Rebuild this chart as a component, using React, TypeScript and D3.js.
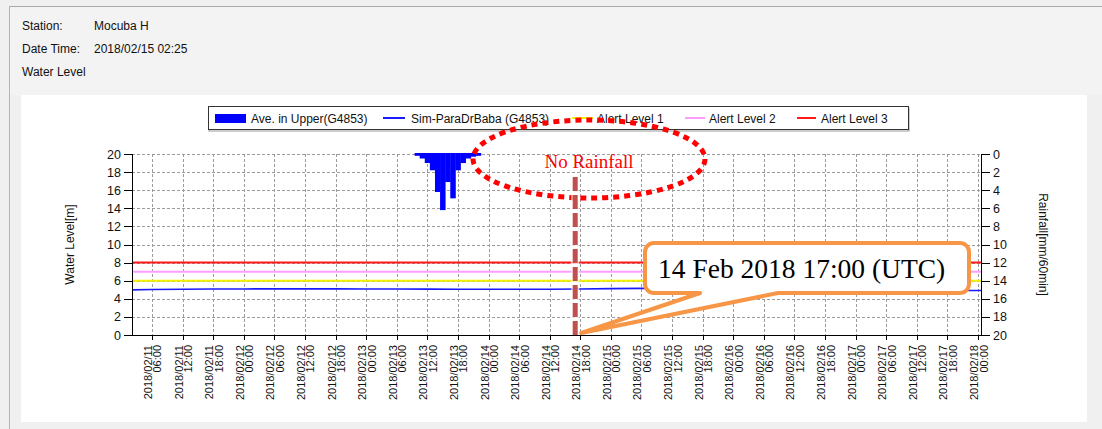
import React from "react";
import * as d3 from "d3";

// Hourly rainfall averaged over the upper basin (mm/60min), 2018/02/13
const rainTimes = [
  "2018/02/13 10:00", "2018/02/13 11:00", "2018/02/13 12:00", "2018/02/13 13:00",
  "2018/02/13 14:00", "2018/02/13 15:00", "2018/02/13 16:00", "2018/02/13 17:00",
  "2018/02/13 18:00", "2018/02/13 19:00", "2018/02/13 20:00", "2018/02/13 21:00",
  "2018/02/13 22:00",
];
const rainValues = [0.2, 0.5, 1.0, 1.8, 4.2, 6.2, 3.1, 4.9, 1.8, 1.0, 0.5, 0.3, 0.2];

// Simulated water level at Mocuba (m), 6-hourly
const simTimes = [
  "2018/02/11 00:00", "2018/02/11 06:00", "2018/02/11 12:00", "2018/02/11 18:00",
  "2018/02/12 00:00", "2018/02/12 06:00", "2018/02/12 12:00", "2018/02/12 18:00",
  "2018/02/13 00:00", "2018/02/13 06:00", "2018/02/13 12:00", "2018/02/13 18:00",
  "2018/02/14 00:00", "2018/02/14 06:00", "2018/02/14 12:00", "2018/02/14 18:00",
  "2018/02/15 00:00", "2018/02/15 06:00", "2018/02/15 12:00", "2018/02/15 18:00",
  "2018/02/16 00:00", "2018/02/16 06:00", "2018/02/16 12:00", "2018/02/16 18:00",
  "2018/02/17 00:00", "2018/02/17 06:00", "2018/02/17 12:00", "2018/02/17 18:00",
  "2018/02/18 00:00", "2018/02/18 06:00",
];
const simValues = [
  4.97, 5.02, 5.06, 5.08, 5.09, 5.1, 5.1, 5.1, 5.09, 5.08, 5.07, 5.06,
  5.05, 5.05, 5.06, 5.08, 5.12, 5.15, 5.12, 5.06, 5.02, 4.99, 4.97, 4.96,
  4.95, 4.94, 4.93, 4.92, 4.91, 4.91,
];

// Alert thresholds (m)
const alertNames = ["Alert Level 1", "Alert Level 2", "Alert Level 3"];
const alertValues = [6, 7, 8];
const alertColors = ["#f2f200", "#ff9cff", "#ff1a1a"];

const levelTicks = [0, 2, 4, 6, 8, 10, 12, 14, 16, 18, 20];
const rainTicks = [0, 2, 4, 6, 8, 10, 12, 14, 16, 18, 20];

const domainStart = "2018/02/11 02:05";
const domainEnd = "2018/02/18 00:35";
const markerTime = "2018/02/14 17:00";

const stationName = "Mocuba H";
const currentTime = "2018/02/15 02:25";

const parse = d3.timeParse("%Y/%m/%d %H:%M");
const fmtDate = d3.timeFormat("%Y/%m/%d");
const fmtTime = d3.timeFormat("%H:%M");

const W = 1102;
const H = 429;
const M = { left: 132, right: 981, top: 154, bottom: 335 };

const SANS = "'Liberation Sans', Arial, sans-serif";
const SERIF = "'Liberation Serif', 'Times New Roman', serif";

export default function App() {
  const x = d3.scaleTime().domain([parse(domainStart)!, parse(domainEnd)!]).range([M.left, M.right]);
  const y = d3.scaleLinear().domain([0, 20]).range([M.bottom, M.top]);
  const yRain = d3.scaleLinear().domain([0, 20]).range([M.top, M.bottom]);

  const xTicks = x.ticks(d3.timeHour.every(6)!).filter((t) => x(t) > M.left + 2 && x(t) < M.right + 0.5);

  const simLine = d3
    .line<number>()
    .x((_, i) => x(parse(simTimes[i])!))
    .y((v) => y(v));

  const halfHour = 30 * 60 * 1000;
  const rainBars = rainTimes.map((t, i) => {
    const c = parse(t)!.getTime();
    const x0 = x(new Date(c - halfHour));
    const x1 = x(new Date(c + halfHour));
    return { x0, x1, y0: yRain(0), y1: yRain(rainValues[i]) };
  });

  const mx = x(parse(markerTime)!);

  // callout box with a tail pointing at the marker's foot
  const box = { x0: 645, y0: 243, x1: 969, y1: 293, r: 9 };
  const tail = { a: 700, b: 778, tx: mx + 6, ty: y(0) - 2 };
  const calloutPath = [
    `M${box.x0 + box.r},${box.y0}`,
    `H${box.x1 - box.r}`,
    `A${box.r},${box.r} 0 0 1 ${box.x1},${box.y0 + box.r}`,
    `V${box.y1 - box.r}`,
    `A${box.r},${box.r} 0 0 1 ${box.x1 - box.r},${box.y1}`,
    `H${tail.b}`,
    `L${tail.tx},${tail.ty}`,
    `L${tail.a},${box.y1}`,
    `H${box.x0 + box.r}`,
    `A${box.r},${box.r} 0 0 1 ${box.x0},${box.y1 - box.r}`,
    `V${box.y0 + box.r}`,
    `A${box.r},${box.r} 0 0 1 ${box.x0 + box.r},${box.y0}`,
    "Z",
  ].join(" ");

  const legendY = 118;
  const lineSwatch = (x0: number, x1: number, color: string) => (
    <line x1={x0} x2={x1} y1={legendY} y2={legendY} stroke={color} strokeWidth={2} />
  );

  return (
    <div style={{ position: "absolute", left: 0, top: 0 }}>
      <svg width={W} height={H} viewBox={`0 0 ${W} ${H}`} style={{ display: "block" }}>
        <rect x={0} y={0} width={W} height={H} fill="#f0f0f0" />
        <line x1={9} x2={W} y1={6.5} y2={6.5} stroke="#a8a8a8" />
        <line x1={9.5} x2={9.5} y1={6} y2={H} stroke="#b4b4b4" />
        <rect x={10} y={7} width={W - 10} height={88} fill="#f3f3f3" />
        <rect x={21} y={95} width={1066} height={327} fill="#ffffff" />

        {/* header */}
        <g fontFamily={SANS} fontSize={12} fill="#111">
          <text x={22} y={30}>Station:</text>
          <text x={94} y={30}>{stationName}</text>
          <text x={22} y={53}>Date Time:</text>
          <text x={94} y={53}>{currentTime}</text>
          <text x={22} y={76}>Water Level</text>
        </g>

        {/* grid */}
        <g stroke="#9c9c9c" strokeWidth={1} strokeDasharray="3,2">
          {levelTicks.map((t) => (
            <line key={`h${t}`} x1={M.left} x2={M.right} y1={Math.round(y(t)) + 0.5} y2={Math.round(y(t)) + 0.5} />
          ))}
          {xTicks.map((t) => (
            <line key={`v${+t}`} x1={Math.round(x(t)) + 0.5} x2={Math.round(x(t)) + 0.5} y1={M.top} y2={M.bottom} />
          ))}
        </g>

        {/* alert levels */}
        {alertValues.map((v, i) => (
          <line key={alertNames[i]} x1={M.left} x2={M.right} y1={y(v)} y2={y(v)} stroke={alertColors[i]} strokeWidth={2} />
        ))}

        {/* simulated level */}
        <defs>
          <clipPath id="plotClip">
            <rect x={M.left} y={M.top - 2} width={M.right - M.left} height={M.bottom - M.top + 4} />
          </clipPath>
        </defs>
        <path d={simLine(simValues) ?? ""} fill="none" stroke="#1a1aff" strokeWidth={1.6} clipPath="url(#plotClip)" />

        {/* rainfall bars hanging from the top axis */}
        <g fill="#0000ff">
          {rainBars.map((b, i) => (
            <rect key={i} x={b.x0} y={b.y0 - 1} width={b.x1 - b.x0 + 0.4} height={b.y1 - b.y0 + 1} />
          ))}
        </g>

        {/* axes */}
        <g stroke="#000" strokeWidth={1}>
          <line x1={M.left + 0.5} x2={M.left + 0.5} y1={M.top} y2={M.bottom + 1} />
          <line x1={M.right + 0.5} x2={M.right + 0.5} y1={M.top} y2={M.bottom + 1} />
          <line x1={M.left} x2={M.right + 1} y1={M.bottom + 0.5} y2={M.bottom + 0.5} />
          {levelTicks.map((t) => (
            <line key={`lt${t}`} x1={M.left - 8} x2={M.left} y1={Math.round(y(t)) + 0.5} y2={Math.round(y(t)) + 0.5} />
          ))}
          {rainTicks.map((t) => (
            <line key={`rt${t}`} x1={M.right} x2={M.right + 9} y1={Math.round(yRain(t)) + 0.5} y2={Math.round(yRain(t)) + 0.5} />
          ))}
          {xTicks.map((t) => (
            <line key={`xt${+t}`} x1={Math.round(x(t)) + 0.5} x2={Math.round(x(t)) + 0.5} y1={M.bottom} y2={M.bottom + 5} />
          ))}
        </g>
        <g fontFamily={SANS} fontSize={12.5} fill="#111">
          {levelTicks.map((t) => (
            <text key={`ll${t}`} x={M.left - 11} y={y(t)} dy="0.36em" textAnchor="end">{t}</text>
          ))}
          {rainTicks.map((t) => (
            <text key={`rl${t}`} x={M.right + 12} y={yRain(t)} dy="0.36em">{t}</text>
          ))}
        </g>
        <g fontFamily={SANS} fontSize={11} fill="#111">
          {xTicks.map((t) => (
            <text key={`xl${+t}`} transform={`translate(${x(t)},${M.bottom + 10}) rotate(-90)`} textAnchor="end">
              <tspan x={0} y={0}>{fmtDate(t)}</tspan>
              <tspan x={0} y={9.5}>{fmtTime(t)}</tspan>
            </text>
          ))}
        </g>
        <text
          transform={`translate(74,${(M.top + M.bottom) / 2}) rotate(-90)`}
          textAnchor="middle"
          fontFamily={SANS}
          fontSize={12}
          fill="#111"
        >
          Water Level[m]
        </text>
        <text
          transform={`translate(1039,${(M.top + M.bottom) / 2}) rotate(90)`}
          textAnchor="middle"
          fontFamily={SANS}
          fontSize={12}
          fill="#111"
        >
          Rainfall[mm/60min]
        </text>

        {/* legend */}
        <rect x={209} y={108} width={700} height={23} fill="#fff" stroke="#9a9a9a" strokeWidth={1} />
        <rect x={208.5} y={106.5} width={700} height={23} fill="#fff" stroke="#333" strokeWidth={1} />
        <g fontFamily={SANS} fontSize={12} fill="#111">
          <rect x={215} y={114} width={31} height={9} fill="#0000ff" />
          <text x={251} y={122.5}>Ave. in Upper(G4853)</text>
          {lineSwatch(383, 405, "#1a1aff")}
          <text x={411} y={122.5}>Sim-ParaDrBaba (G4853)</text>
          {lineSwatch(572, 593, alertColors[0])}
          <text x={597} y={122.5}>{alertNames[0]}</text>
          {lineSwatch(685, 705, alertColors[1])}
          <text x={709} y={122.5}>{alertNames[1]}</text>
          {lineSwatch(797, 816, alertColors[2])}
          <text x={821} y={122.5}>{alertNames[2]}</text>
        </g>

        {/* "no rainfall" annotation */}
        <ellipse cx={589} cy={159} rx={116} ry={39} fill="none" stroke="#ff0000" strokeWidth={5} strokeDasharray="6,5" />
        <text x={589} y={168} textAnchor="middle" fontFamily={SERIF} fontSize={19} fill="#ff0000">No Rainfall</text>

        {/* forecast issue marker */}
        <line x1={mx} x2={mx} y1={177} y2={M.bottom} stroke="#ffffff" strokeOpacity={0.7} strokeWidth={8} />
        <line x1={mx} x2={mx} y1={177} y2={M.bottom} stroke="#c0504d" strokeWidth={5} strokeDasharray="14,4" />

        {/* callout */}
        <path d={calloutPath} fill="#ffffff" stroke="#f79646" strokeWidth={4} strokeLinejoin="round" />
        <text x={658} y={278} fontFamily={SERIF} fontSize={27.5} fill="#000">14 Feb 2018 17:00 (UTC)</text>
      </svg>
    </div>
  );
}
